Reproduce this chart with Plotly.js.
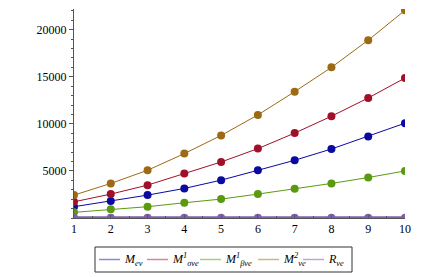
<!DOCTYPE html>
<html><head><meta charset="utf-8">
<script src="https://cdn.plot.ly/plotly-3.0.1.min.js"></script>
<style>html,body{margin:0;padding:0;background:#fff;}#chart{width:440px;height:277px;}</style>
</head><body><div id="chart"></div>
<script>
const n = [1,2,3,4,5,6,7,8,9,10];
const M_ev = [1200,1800,2430,3140,4020,5070,6130,7330,8670,10070];
const M1_sve = [1720,2540,3490,4720,5950,7370,9020,10810,12750,14870];
const M1_bve = [600,920,1200,1620,2010,2540,3100,3670,4300,5000];
const M2_ve = [2430,3670,5070,6840,8770,10950,13420,16000,18890,22060];
const R_ve = [20,20,20,20,20,20,20,20,20,20];
const yTicks = [5000,10000,15000,20000];
const yTickText = ['5000','10000','15000','20000'];
const names = ['<i>M<sub>ev</sub></i>','<i>M<sup>1</sup><sub>σve</sub></i>','<i>M<sup>1</sup><sub>βve</sub></i>','<i>M<sup>2</sup><sub>ve</sub></i>','<i>R<sub>ve</sub></i>'];
const colors = ['#0a0aa0','#a01028','#5a9a10','#9c6a14','#7f60ae'];
const legColors = ['#8a8ad0','#d08a96','#a8cc88','#ccb48a','#b8a8d8'];
const series = [M_ev, M1_sve, M1_bve, M2_ve, R_ve];
const traces = series.map((s,i)=>({
  x:n, y:s, name:names[i], type:'scatter', mode:'lines+markers', showlegend:false,
  line:{color:colors[i], width: i===4?3:1},
  marker:{color:colors[i], size:8}
}));

// plot area in pixels
const L=74, R=405, T=9, B=218;
const px = X => (X-L)/(R-L);
const py = Y => (B-Y)/(B-T);
const SERIF = "Times New Roman, Liberation Serif, serif";

// custom legend (box, sample lines, labels)
const shapes = [{type:'rect', xref:'paper', yref:'paper', x0:px(95), x1:px(352), y0:py(247), y1:py(272),
  line:{color:'#333', width:1}, fillcolor:'rgba(0,0,0,0)'}];
const annotations = [];
const lineStart = [99,147,200,258,303];
const legY = 259.5;
lineStart.forEach((s,i)=>{
  shapes.push({type:'line', xref:'paper', yref:'paper', x0:px(s), x1:px(s+21), y0:py(legY), y1:py(legY),
    line:{color:legColors[i], width:1.5}});
  annotations.push({xref:'paper', yref:'paper', x:px(s+24), y:py(legY), xanchor:'left', yanchor:'middle',
    text:names[i], showarrow:false, font:{family:SERIF, size:12, color:'#000'}, borderpad:0});
});

const layout = {
  width:440, height:277,
  margin:{l:L,r:440-R,t:T,b:277-B},
  paper_bgcolor:'#fff', plot_bgcolor:'#fff',
  font:{family:SERIF, size:12, color:'#000'},
  showlegend:false,
  shapes:shapes, annotations:annotations,
  xaxis:{range:[1,10], tickvals:n, ticks:'inside', ticklen:3, showgrid:false, zeroline:false,
    showline:true, linecolor:'#555', linewidth:1, tickcolor:'#555', automargin:false,
    tickfont:{family:SERIF, size:12, color:'#000'},
    minor:{dtick:0.5, ticks:'inside', ticklen:2, tickcolor:'#555'}},
  yaxis:{range:[0,22200], tickvals:yTicks, ticktext:yTickText, ticks:'outside', ticklen:4, showgrid:false, zeroline:false,
    showline:true, linecolor:'#555', linewidth:1, tickcolor:'#555', automargin:false,
    tickfont:{family:SERIF, size:12, color:'#000'},
    minor:{dtick:1000, ticks:'outside', ticklen:2, tickcolor:'#555'}}
};
Plotly.newPlot('chart', traces, layout, {displayModeBar:false, staticPlot:true});
</script></body></html>
